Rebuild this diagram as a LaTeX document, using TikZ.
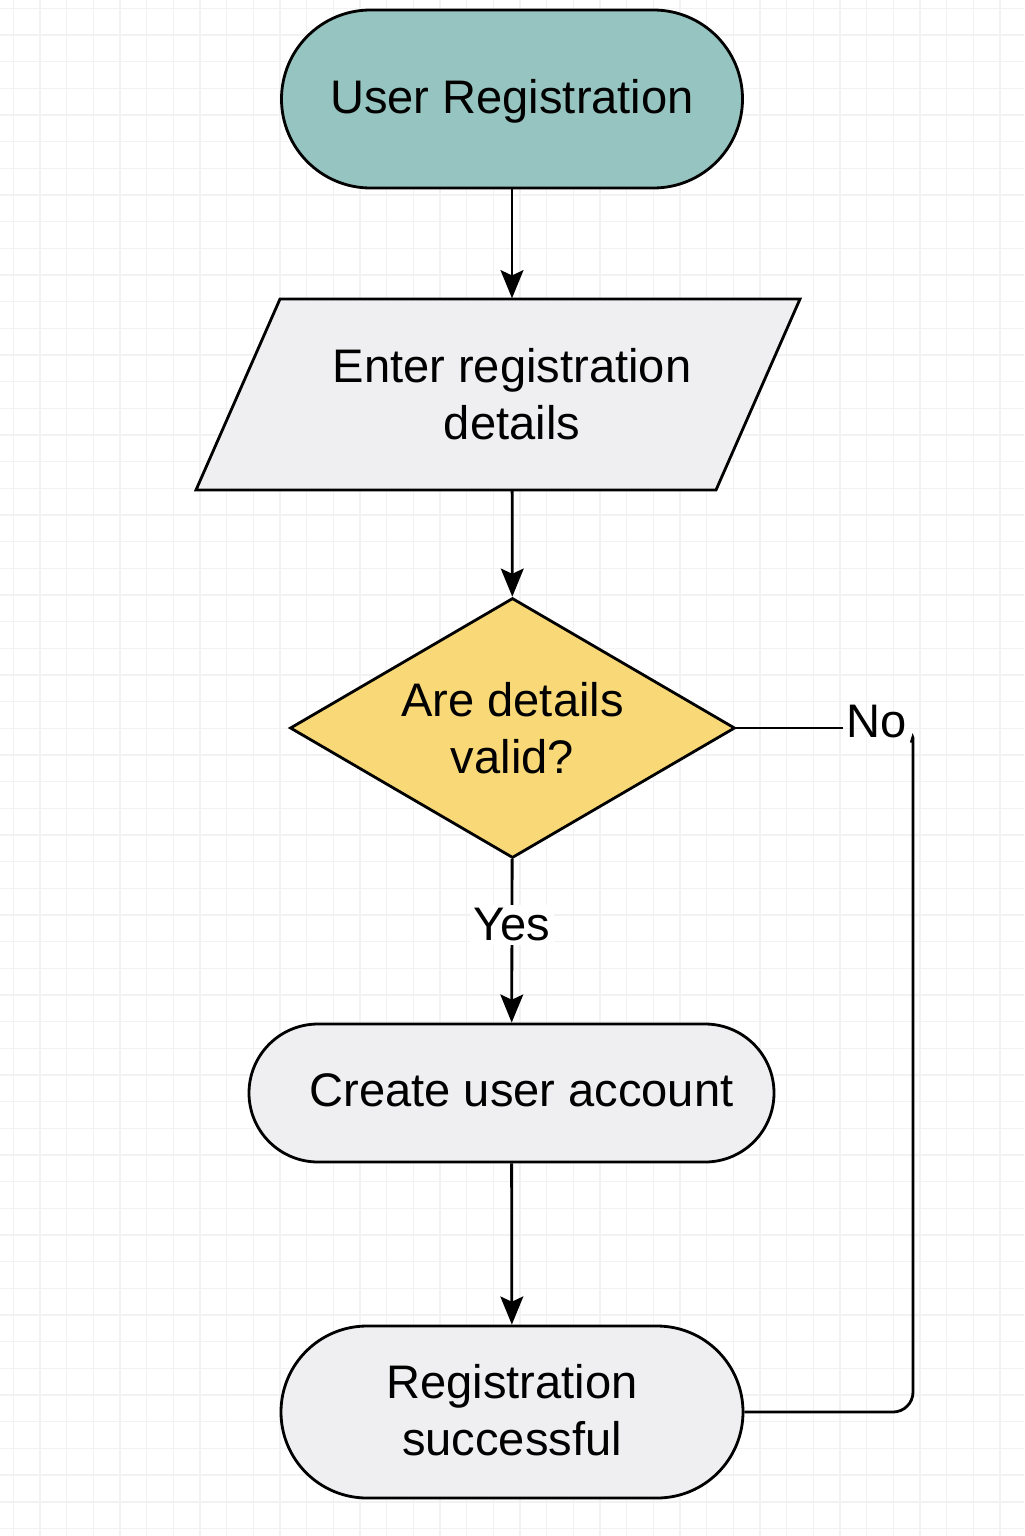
\documentclass[tikz,border=0pt]{standalone}
\usepackage{fontspec}
\setmainfont{Liberation Sans}
\usetikzlibrary{shapes.geometric,arrows.meta}
\definecolor{termteal}{RGB}{150,196,192}
\definecolor{boxgray}{RGB}{239,239,241}
\definecolor{askyellow}{RGB}{249,217,119}
\definecolor{gridgray}{RGB}{242,242,244}
\begin{document}
\begin{tikzpicture}[>={Stealth[length=8pt,width=6.5pt,inset=1.5pt]},
    font=\fontsize{13.4}{16.2}\selectfont,
    gridline/.style={line width=0.4pt,gridgray},
    stadium/.style={draw,line width=0.8pt,rounded corners=#1,align=center,text depth=0.05cm},
    flowline/.style={line width=0.8pt}]
  \useasboundingbox[fill=white] (0,0) rectangle (10.24,-15.36);
  \foreach \x in {0,...,38} {
    \draw[gridline] ({0.1333+0.2667*\x},0) -- ++(0,-15.36);
  }
  \foreach \y in {0,...,57} {
    \draw[gridline] (0,{-0.083-0.2667*\y}) -- ++(10.24,0);
  }
  \node[stadium=0.89cm,fill=termteal,minimum width=4.61cm,minimum height=1.78cm] (start) at (5.12,-0.99) {User Registration};
  \draw[line width=0.8pt,fill=boxgray] (1.96,-4.90) -- (2.80,-2.99) -- (8.00,-2.99) -- (7.16,-4.90) -- cycle;
  \node[minimum width=5.2cm,minimum height=1.91cm,align=center] (enter) at (5.12,-3.945) {Enter registration\\details};
  \node[draw,line width=0.8pt,fill=askyellow,diamond,aspect=1.71,minimum width=4.45cm,minimum height=2.6cm,inner sep=0pt,align=center] (valid) at (5.125,-7.28) {Are details\\valid?};
  \node[stadium=0.69cm,fill=boxgray,minimum width=5.25cm,minimum height=1.38cm] (create) at (5.115,-10.93) {\hspace{0.2cm}Create user account};
  \node[stadium=0.86cm,fill=boxgray,minimum width=4.62cm,minimum height=1.72cm] (done) at (5.12,-14.12) {Registration\\successful};
  \node[inner sep=1pt] (nolbl) at (8.77,-7.22) {No};
  \draw[flowline,->] (start) -- (enter);
  \draw[flowline,->] (enter) -- (valid);
  \draw[flowline,->] (valid) -- node[pos=0.4,fill=white,inner sep=1pt] {Yes} (create);
  \draw[flowline,->] (create) -- (done);
  \draw[flowline] (valid.east) -- (valid.east -| nolbl.west);
  \draw[flowline,rounded corners=0.2cm] (nolbl.south east) .. controls (9.13,-7.36) .. (9.13,-7.6) |- (done.east);
\end{tikzpicture}
\end{document}
